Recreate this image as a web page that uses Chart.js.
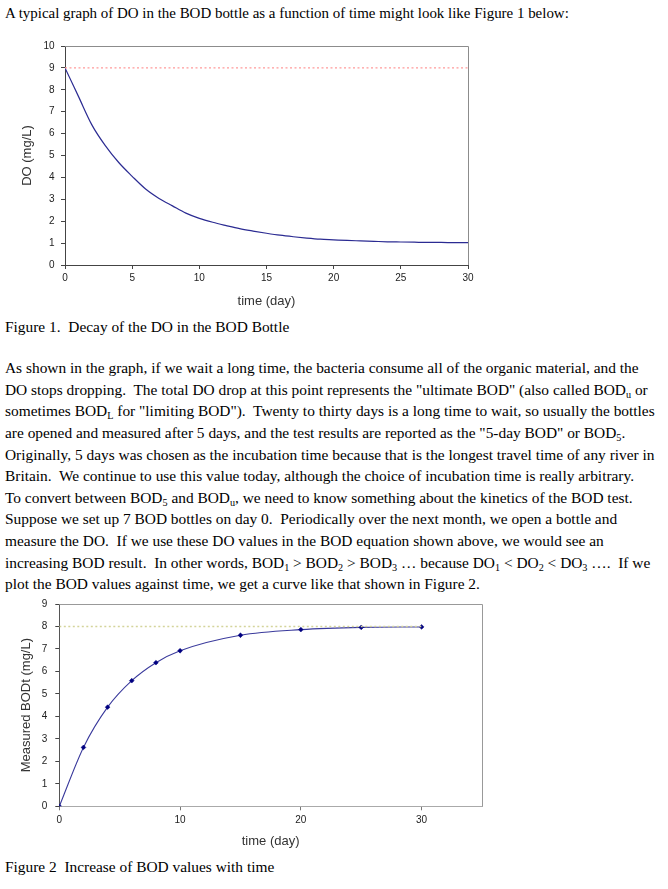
<!DOCTYPE html>
<html>
<head>
<meta charset="utf-8">
<script src="https://cdn.jsdelivr.net/npm/chart.js@4.4.1/dist/chart.umd.min.js"></script>
<style>
  html, body { margin: 0; padding: 0; background: #fff; }
  body { width: 668px; height: 889px; position: relative; overflow: hidden;
         font-family: "Liberation Serif", "Times New Roman", serif; font-size: 15.4px; color: #000; }
  .t { position: absolute; left: 5px; white-space: pre; line-height: 21.6px; }
  sub { font-size: 0.66em; vertical-align: -0.3em; line-height: 0; }
  canvas { position: absolute; left: 0; }
</style>
</head>
<body>
<div class="t" style="top:2.6px;font-size:14.95px">A typical graph of DO in the BOD bottle as a function of time might look like Figure 1 below:</div>
<canvas id="c1" width="490" height="278" style="top:30px;width:490px;height:278px"></canvas>
<div class="t" style="top:315.8px">Figure 1.  Decay of the DO in the BOD Bottle</div>
<div class="t" style="top:357.2px">As shown in the graph, if we wait a long time, the bacteria consume all of the organic material, and the
DO stops dropping.  The total DO drop at this point represents the "ultimate BOD" (also called BOD<sub>u</sub> or
sometimes BOD<sub>L</sub> for "limiting BOD").  Twenty to thirty days is a long time to wait, so usually the bottles
are opened and measured after 5 days, and the test results are reported as the "5-day BOD" or BOD<sub>5</sub>.
Originally, 5 days was chosen as the incubation time because that is the longest travel time of any river in
Britain.  We continue to use this value today, although the choice of incubation time is really arbitrary.
To convert between BOD<sub>5</sub> and BOD<sub>u</sub>, we need to know something about the kinetics of the BOD test.
Suppose we set up 7 BOD bottles on day 0.  Periodically over the next month, we open a bottle and
measure the DO.  If we use these DO values in the BOD equation shown above, we would see an
increasing BOD result.  In other words, BOD<sub>1</sub> &gt; BOD<sub>2</sub> &gt; BOD<sub>3</sub> … because DO<sub>1</sub> &lt; DO<sub>2</sub> &lt; DO<sub>3</sub> ….  If we
plot the BOD values against time, we get a curve like that shown in Figure 2.</div>
<canvas id="c2" width="500" height="262" style="top:590px;width:500px;height:262px"></canvas>
<div class="t" style="top:855.8px">Figure 2  Increase of BOD values with time</div>

<script>
// ---------- Figure 1 data ----------
const doDays = [0,1,2,3,4,5,6,7,8,9,10,11,12,13,14,15,16,17,18,19,20,21,22,23,24,25,26,27,28,29,30];
const doValues = [9.0,7.7,6.4,5.45,4.68,4.05,3.47,3.04,2.7,2.37,2.13,1.95,1.8,1.66,1.55,1.45,1.36,1.29,1.23,1.18,1.15,1.12,1.1,1.08,1.06,1.05,1.04,1.03,1.03,1.02,1.02];
const doSatDays = [0, 30];
const doSatValues = [9, 9];
const fig1XTitle = "time (day)";
const fig1YTitle = "DO (mg/L)";

// ---------- Figure 2 data ----------
const bodDays = [0,2,4,6,8,10,15,20,25,30];
const bodValues = [0,2.62,4.41,5.59,6.39,6.92,7.61,7.86,7.96,7.98];
const bodUltDays = [0, 30];
const bodUltValues = [8, 8];
const fig2XTitle = "time (day)";
const fig2YTitle = "Measured BODt (mg/L)";

const pts = (xs, ys) => xs.map((x, i) => ({x: x, y: ys[i]}));

Chart.defaults.font.family = "'Liberation Sans', Arial, sans-serif";
Chart.defaults.color = '#222';

const framePlugin = {
  id: 'frame',
  beforeDatasetsDraw(chart, args, opts) {
    const a = chart.chartArea, ctx = chart.ctx;
    ctx.save();
    ctx.strokeStyle = opts.color || '#999';
    ctx.lineWidth = 1;
    ctx.beginPath();
    ctx.moveTo(a.left, a.top + 0.5);
    ctx.lineTo(a.right + 0.5, a.top + 0.5);
    ctx.lineTo(a.right + 0.5, a.bottom);
    ctx.stroke();
    ctx.restore();
  }
};

function fixW(w) { return function(s) { s.width = w; }; }
function fixH(h) { return function(s) { s.height = h; }; }

new Chart(document.getElementById('c1'), {
  type: 'line',
  data: {
    datasets: [
      { data: pts(doSatDays, doSatValues), borderColor: '#ff9a9a', borderWidth: 1.3,
        borderDash: [2, 2.5], pointRadius: 0, tension: 0 },
      { data: pts(doDays, doValues), borderColor: '#2b2b92', borderWidth: 1.2,
        pointRadius: 0, cubicInterpolationMode: 'monotone' }
    ]
  },
  options: {
    responsive: false, animation: false,
    layout: { padding: { top: 16, right: 22, left: 0, bottom: 0 } },
    plugins: { legend: { display: false }, tooltip: { enabled: false }, frame: { color: '#8c8c8c' } },
    scales: {
      x: {
        type: 'linear', min: 0, max: 30,
        ticks: { stepSize: 5, padding: 3.5, font: { size: 10 }, color: '#222', maxRotation: 0 },
        grid: { drawOnChartArea: false, tickLength: 4, color: '#444' },
        border: { color: '#444', width: 1 },
        title: { display: true, text: fig1XTitle, font: { size: 13, lineHeight: 1 }, color: '#333', padding: { top: 0, bottom: 0 } },
        afterFit: fixH(43)
      },
      y: {
        min: 0, max: 10,
        ticks: { stepSize: 1, padding: 6.5, font: { size: 10 }, color: '#222' },
        grid: { drawOnChartArea: false, tickLength: 4, color: '#444' },
        border: { color: '#444', width: 1 },
        title: { display: true, text: fig1YTitle, font: { size: 13, lineHeight: 1 }, color: '#333', padding: { top: 20.5, bottom: 0 } },
        afterFit: fixW(65)
      }
    }
  },
  plugins: [framePlugin]
});

new Chart(document.getElementById('c2'), {
  type: 'line',
  data: {
    datasets: [
      { data: pts(bodUltDays, bodUltValues), borderColor: '#d4d49a', borderWidth: 1.3,
        borderDash: [2, 2.5], pointRadius: 0, tension: 0 },
      { data: pts(bodDays, bodValues), borderColor: '#3a3a9c', borderWidth: 1.1,
        cubicInterpolationMode: 'monotone',
        pointStyle: 'rectRot', pointRadius: 2.4, pointBackgroundColor: '#000080', pointBorderColor: '#000080', pointBorderWidth: 0.5 }
    ]
  },
  options: {
    responsive: false, animation: false,
    layout: { padding: { top: 11.7, right: 18, left: 0, bottom: 0 } },
    plugins: { legend: { display: false }, tooltip: { enabled: false }, frame: { color: '#999' } },
    scales: {
      x: {
        type: 'linear', min: 0, max: 35,
        ticks: { stepSize: 10, includeBounds: false, padding: 4, font: { size: 10 }, color: '#222', maxRotation: 0 },
        grid: { drawOnChartArea: false, tickLength: 4, color: '#777' },
        border: { color: '#aaa', width: 1 },
        title: { display: true, text: fig2XTitle, font: { size: 13, lineHeight: 1 }, color: '#333', padding: { top: 0, bottom: 3.8 } },
        afterFit: fixH(45.7)
      },
      y: {
        min: 0, max: 9,
        ticks: { stepSize: 1, padding: 8, font: { size: 10 }, color: '#222' },
        grid: { drawOnChartArea: false, tickLength: 4, color: '#444' },
        border: { color: '#555', width: 1 },
        title: { display: true, text: fig2YTitle, font: { size: 13, lineHeight: 1 }, color: '#333', padding: { top: 19.5, bottom: 0 } },
        afterFit: fixW(59.3)
      }
    }
  },
  plugins: [framePlugin]
});
</script>
</body>
</html>
